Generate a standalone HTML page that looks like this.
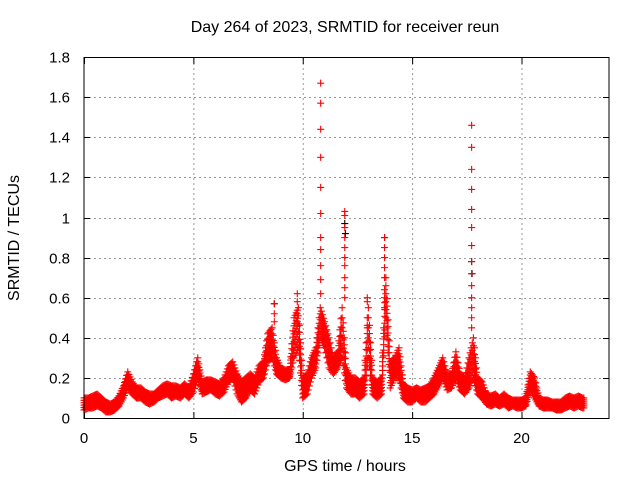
<!DOCTYPE html>
<html><head><meta charset="utf-8"><style>
html,body{margin:0;padding:0;background:#fff;}
svg{display:block;font-family:"Liberation Sans",sans-serif;}
</style></head><body>
<svg id="chart" width="640" height="480">
<text x="345" y="32" font-size="16" text-anchor="middle">Day 264 of 2023, SRMTID for receiver reun</text>
<text x="345" y="471" font-size="16" text-anchor="middle">GPS time / hours</text>
<text x="19" y="238" font-size="16" text-anchor="middle" transform="rotate(-90 19 238)">SRMTID / TECUs</text>
<g id="grid"></g>
<g id="ticks"></g>
<g id="black"></g>
<g id="red"></g>
<rect x="84" y="57.5" width="525" height="361" fill="none" stroke="#000" stroke-width="1"/>
</svg>
<script>
const xTicks=[0,5,10,15,20];
const yTicks=[0,0.2,0.4,0.6,0.8,1,1.2,1.4,1.6,1.8];
const yTickLabels=["0","0.2","0.4","0.6","0.8","1","1.2","1.4","1.6","1.8"];
const tStep=0.2;
const lo=[.04,.05,.05,.06,.05,.03,.03,.04,.06,.1,.15,.12,.1,.1,.08,.07,.08,.1,.11,.12,.1,.11,.1,.12,.1,.13,.2,.12,.13,.14,.12,.11,.13,.18,.2,.12,.08,.1,.14,.12,.18,.2,.28,.3,.22,.2,.19,.2,.3,.35,.1,.12,.2,.25,.4,.35,.25,.22,.25,.3,.15,.12,.12,.1,.12,.3,.12,.1,.12,.5,.15,.2,.2,.1,.08,.08,.1,.08,.08,.1,.12,.16,.2,.14,.15,.2,.14,.12,.15,.2,.12,.1,.07,.06,.07,.06,.07,.05,.06,.05,.05,.06,.15,.1,.06,.05,.05,.05,.04,.04,.05,.06,.05,.06,.05];
const hi=[.1,.1,.11,.12,.1,.08,.07,.08,.11,.16,.23,.18,.15,.15,.13,.12,.12,.14,.16,.17,.16,.16,.15,.17,.15,.22,.3,.18,.19,.19,.18,.17,.2,.26,.28,.22,.18,.2,.22,.2,.26,.28,.42,.45,.3,.25,.24,.24,.5,.55,.2,.22,.3,.35,.55,.48,.4,.3,.33,.55,.25,.2,.2,.18,.2,.55,.2,.18,.2,.7,.28,.3,.35,.17,.15,.14,.15,.14,.15,.16,.2,.25,.3,.22,.22,.33,.22,.2,.3,.4,.2,.18,.12,.11,.12,.1,.12,.1,.09,.09,.09,.1,.23,.2,.1,.09,.09,.08,.08,.08,.1,.11,.1,.11,.1];
const spikeTimes=[8.7,9.75,10.82,11.92,12.95,13.74,17.72];
const spikeVals=[[0.57,0.52,0.48],[0.62,0.58,0.52,0.48],[1.67,1.57,1.44,1.3,1.15,1.02,0.9,0.84,0.76,0.69,0.62],[1.03,1.01,0.95,0.9,0.85,0.8,0.76,0.7,0.65,0.6],[0.6,0.58,0.5,0.45],[0.9,0.85,0.8,0.75,0.7,0.64,0.6,0.55],[1.46,1.35,1.24,1.14,1.04,0.95,0.86,0.78,0.72,0.66,0.6,0.55,0.5,0.45]];
const blackTimes=[8.7,11.92,11.95,13.74,17.72,17.74];
const blackVals=[0.57,0.97,0.92,0.9,0.78,0.72];
const NS="http://www.w3.org/2000/svg";
const X=v=>84+v*21.875, Y=v=>418-v*200.5;
function mk(tag,attrs,parent){const e=document.createElementNS(NS,tag);for(const k in attrs)e.setAttribute(k,attrs[k]);parent.appendChild(e);return e;}
const grid=document.getElementById('grid'),ticks=document.getElementById('ticks');
xTicks.forEach(v=>{const x=X(v)+0.5;
 if(v>0){const g=mk('line',{x1:x,x2:x,y1:58,y2:418,stroke:'#999','stroke-dasharray':'2,3'},grid);}
 const t=mk('path',{d:`M${x},418v-6M${x},58v6`,stroke:'#000'},ticks);
 const l=mk('text',{x:X(v),y:443,'font-size':15,'text-anchor':'middle'},ticks);l.textContent=v;});
yTicks.forEach((v,i)=>{const y=Math.round(Y(v))+0.5;
 if(v>0&&v<1.8){const g=mk('line',{x1:84,x2:609,y1:y,y2:y,stroke:'#999','stroke-dasharray':'2,3'},grid);}
 const t=mk('path',{d:`M84,${y}h6M609,${y}h-6`,stroke:'#000'},ticks);
 const l=mk('text',{x:70,y:y+5,'font-size':15,'text-anchor':'end'},ticks);l.textContent=yTickLabels[i];});
function plus(t,v,col,g){const x=X(t),y=Y(v);const p=mk('path',{d:`M${x-3.5},${y}h7M${x},${y-3.5}v7`,stroke:col,'stroke-width':1.1},g);
 
 }
const black=document.getElementById('black'),red=document.getElementById('red');
blackTimes.forEach((t,i)=>plus(t,blackVals[i],'#000',black));
lo.forEach((l,i)=>{const n=i+1<lo.length?i+1:i;
 for(let s=0;s<4;s++){const f=s/4,t=i*tStep+f*tStep;if(t>22.85)continue;
  const l2=l+(lo[n]-l)*f,h2=hi[i]+(hi[n]-hi[i])*f;
  for(let k=0;k<=5;k++)plus(t,l2+(h2-l2)*k/5,'#f00',red);}});
spikeTimes.forEach((t,i)=>spikeVals[i].forEach(v=>plus(t,v,'#f00',red)));
</script>
</body></html>
